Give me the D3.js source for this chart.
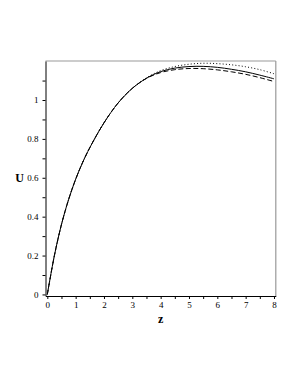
<!DOCTYPE html>
<html>
<head>
<meta charset="utf-8">
<script src="https://cdn.jsdelivr.net/npm/d3@7"></script>
<style>
  html, body { margin: 0; padding: 0; background: #fff; }
  svg { display: block; }
  text { font-family: "Liberation Serif", "DejaVu Serif", serif; }
</style>
</head>
<body>
<svg id="chart" width="298" height="385"></svg>
<script>
// Data
const zValues   = [0, 0.25, 0.5, 0.75, 1, 1.25, 1.5, 2, 2.5, 3, 3.5, 4, 4.5, 5, 5.5, 6, 6.5, 7, 7.5, 8];
const solidU    = [0, 0.2, 0.36, 0.4875, 0.5925, 0.68, 0.755, 0.8825, 0.985, 1.06, 1.112, 1.146, 1.164, 1.172, 1.173, 1.168, 1.158, 1.145, 1.128, 1.109];
const dashedU   = [0, 0.2, 0.36, 0.4875, 0.5925, 0.68, 0.755, 0.8825, 0.985, 1.06, 1.111, 1.141, 1.156, 1.162, 1.161, 1.155, 1.145, 1.132, 1.115, 1.095];
const dottedU   = [0, 0.2, 0.36, 0.4875, 0.5925, 0.68, 0.755, 0.8825, 0.985, 1.06, 1.114, 1.151, 1.172, 1.184, 1.189, 1.187, 1.181, 1.171, 1.156, 1.135];
const xTicks    = [0, 1, 2, 3, 4, 5, 6, 7, 8];
const xMinor    = [0.5, 1.5, 2.5, 3.5, 4.5, 5.5, 6.5, 7.5];
const yTicks    = [0, 0.2, 0.4, 0.6, 0.8, 1];
const yMinor    = [0.1, 0.3, 0.5, 0.7, 0.9, 1.1];

const svg = d3.select("#chart");
const L = 45.5, R = 275.8, T = 61, B = 296;

const x = d3.scaleLinear().domain([-0.064, 8.064]).range([L, R]);
const y = d3.scaleLinear().domain([-0.008, 1.2006]).range([B, T]);

// frame (top and right in gray)
svg.append("line").attr("x1", L).attr("x2", R).attr("y1", T).attr("y2", T)
  .attr("stroke", "#999").attr("stroke-width", 1.2);
svg.append("line").attr("x1", R).attr("x2", R).attr("y1", T).attr("y2", B)
  .attr("stroke", "#999").attr("stroke-width", 1.2);

// curves
const line = d3.line().x(d => x(d[0])).y(d => y(d[1])).curve(d3.curveCatmullRom.alpha(0.5));
const series = [
  { vals: dottedU, dash: "1,2.2" },
  { vals: dashedU, dash: "5,2.5" },
  { vals: solidU,  dash: null }
];
series.forEach(s => {
  svg.append("path")
    .datum(zValues.map((z, i) => [z, s.vals[i]]))
    .attr("d", line)
    .attr("fill", "none")
    .attr("stroke", "#000")
    .attr("stroke-width", 1)
    .attr("stroke-dasharray", s.dash);
});

// x axis
svg.append("g").attr("transform", `translate(0,${B})`)
  .call(d3.axisBottom(x).tickValues(xTicks).tickFormat(d3.format("d")).tickSize(3).tickPadding(3).tickSizeOuter(0));
svg.append("g").attr("transform", `translate(0,${B})`)
  .call(d3.axisBottom(x).tickValues(xMinor).tickFormat("").tickSize(3).tickSizeOuter(0))
  .select(".domain").remove();

// y axis
svg.append("g").attr("transform", `translate(${L},0)`)
  .call(d3.axisLeft(y).tickValues(yTicks).tickFormat(d => d3.format("~g")(d)).tickSize(3).tickPadding(4).tickSizeOuter(0));
svg.append("g").attr("transform", `translate(${L},0)`)
  .call(d3.axisLeft(y).tickValues(yMinor).tickFormat("").tickSize(3).tickSizeOuter(0))
  .select(".domain").remove();

svg.selectAll(".tick text")
  .style("font-family", "'Liberation Serif', serif")
  .style("font-size", "9px")
  .attr("fill", "#000");
svg.selectAll(".domain, .tick line").attr("stroke", "#000");

// axis titles
svg.append("text").attr("x", (L + R) / 2).attr("y", 323)
  .attr("text-anchor", "middle")
  .style("font-size", "12px").style("font-weight", "bold")
  .text("z");
svg.append("text").attr("x", 19.5).attr("y", 182)
  .attr("text-anchor", "middle")
  .style("font-size", "12px").style("font-weight", "bold")
  .text("U");
</script>
</body>
</html>
